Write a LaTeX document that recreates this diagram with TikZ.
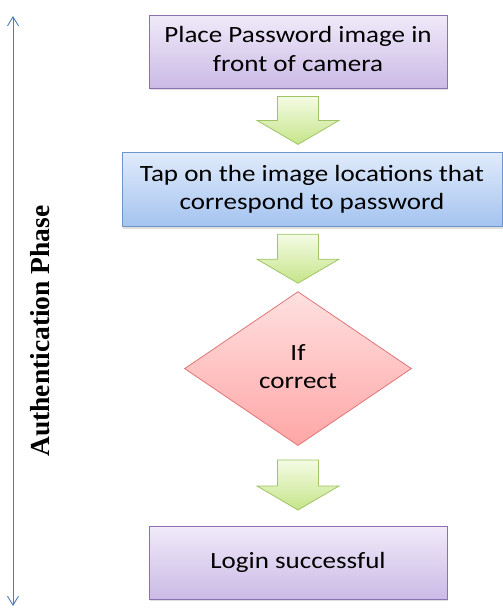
\documentclass[tikz,border=0pt]{standalone}
\usepackage{fontspec}
\usepackage{graphicx}
\setmainfont{Carlito}
\newfontfamily\phasefont{Liberation Serif}
\usetikzlibrary{positioning,calc,arrows.meta,shapes.geometric,shadows}

\definecolor{purpleline}{RGB}{140,112,175}
\definecolor{purpletop}{RGB}{240,234,249}
\definecolor{purplebot}{RGB}{203,186,230}
\definecolor{blueline}{RGB}{110,150,205}
\definecolor{bluetop}{RGB}{224,235,251}
\definecolor{bluebot}{RGB}{164,195,240}
\definecolor{redline}{RGB}{222,118,118}
\definecolor{redtop}{RGB}{255,224,224}
\definecolor{redbot}{RGB}{255,166,166}
\definecolor{greenline}{RGB}{160,196,100}
\definecolor{greentop}{RGB}{244,251,228}
\definecolor{greenbot}{RGB}{198,229,138}
\definecolor{phaseblue}{RGB}{74,126,187}

% stretched box text, as in the slide
\newcommand{\wtext}[1]{\scalebox{1.16}[1]{\begin{tabular}{@{}c@{}}#1\end{tabular}}}

\begin{document}
\begin{tikzpicture}[
			font=\fontsize{23.3}{28.5}\selectfont,
			boxshadow/.style={drop shadow={shadow xshift=0.5pt, shadow yshift=-2pt, opacity=0.25}},
			purplebox/.style={rectangle, draw=purpleline, line width=0.8pt, top color=purpletop, bottom color=purplebot, minimum width=298pt, minimum height=73pt, inner sep=0, boxshadow},
			bluebox/.style={rectangle, draw=blueline, line width=0.8pt, top color=bluetop, bottom color=bluebot, minimum width=380pt, minimum height=74pt, inner sep=0, boxshadow},
			decision/.style={diamond, aspect=1.47, draw=redline, line width=0.8pt, top color=redtop, bottom color=redbot, minimum width=227pt, minimum height=154pt, inner sep=0},
			greenarrow/.style={draw=greenline, line width=0.8pt, line join=miter, top color=greentop, bottom color=greenbot},
			phase/.style={draw=phaseblue, line width=0.9pt, {Straight Barb[length=9pt,width=11pt]}-{Straight Barb[length=9pt,width=11pt]}}]

			\useasboundingbox (0,0) rectangle (503pt,-608pt);

			\node[purplebox] (place) at (298pt,-51.5pt) {\wtext{Place Password image in\\front of camera}};
			\node[bluebox, below=64pt of place, xshift=14pt] (tap) {\wtext{Tap on the image locations that\\correspond to password}};
			\node[decision, below=64pt of tap, xshift=-14pt] (check) {\wtext{If\\correct}};
			\node[purplebox, below=80pt of check] (login) {\wtext{Login successful}};

			% block arrows between the steps
			\foreach \a/\b/\g/\h in {place/tap/8/8, tap/check/7/8, check/login/14/16} {
				\path (place.south |- \a.south) ++(0,-\g pt) coordinate (t);
				\path (t |- \b.north) ++(0,\h pt) coordinate (b);
				\draw[greenarrow] ($(t)+(-20.5pt,0)$) -- ($(t)+(20.5pt,0)$) -- ($(b)+(20.5pt,24pt)$) -- ($(b)+(41pt,24pt)$)
					-- (b) -- ($(b)+(-41pt,24pt)$) -- ($(b)+(-20.5pt,24pt)$) -- cycle;
			}

			\coordinate (ptop) at (13pt,-16pt);
			\coordinate (pbot) at (13pt,-606pt);
			\draw[phase] (pbot) -- (ptop);
			\node[rotate=90, inner sep=0, font={\phasefont\bfseries\fontsize{27.5}{30}\selectfont}] (label) at (40pt,-331pt) {Authentication Phase};
		\end{tikzpicture}
\end{document}
